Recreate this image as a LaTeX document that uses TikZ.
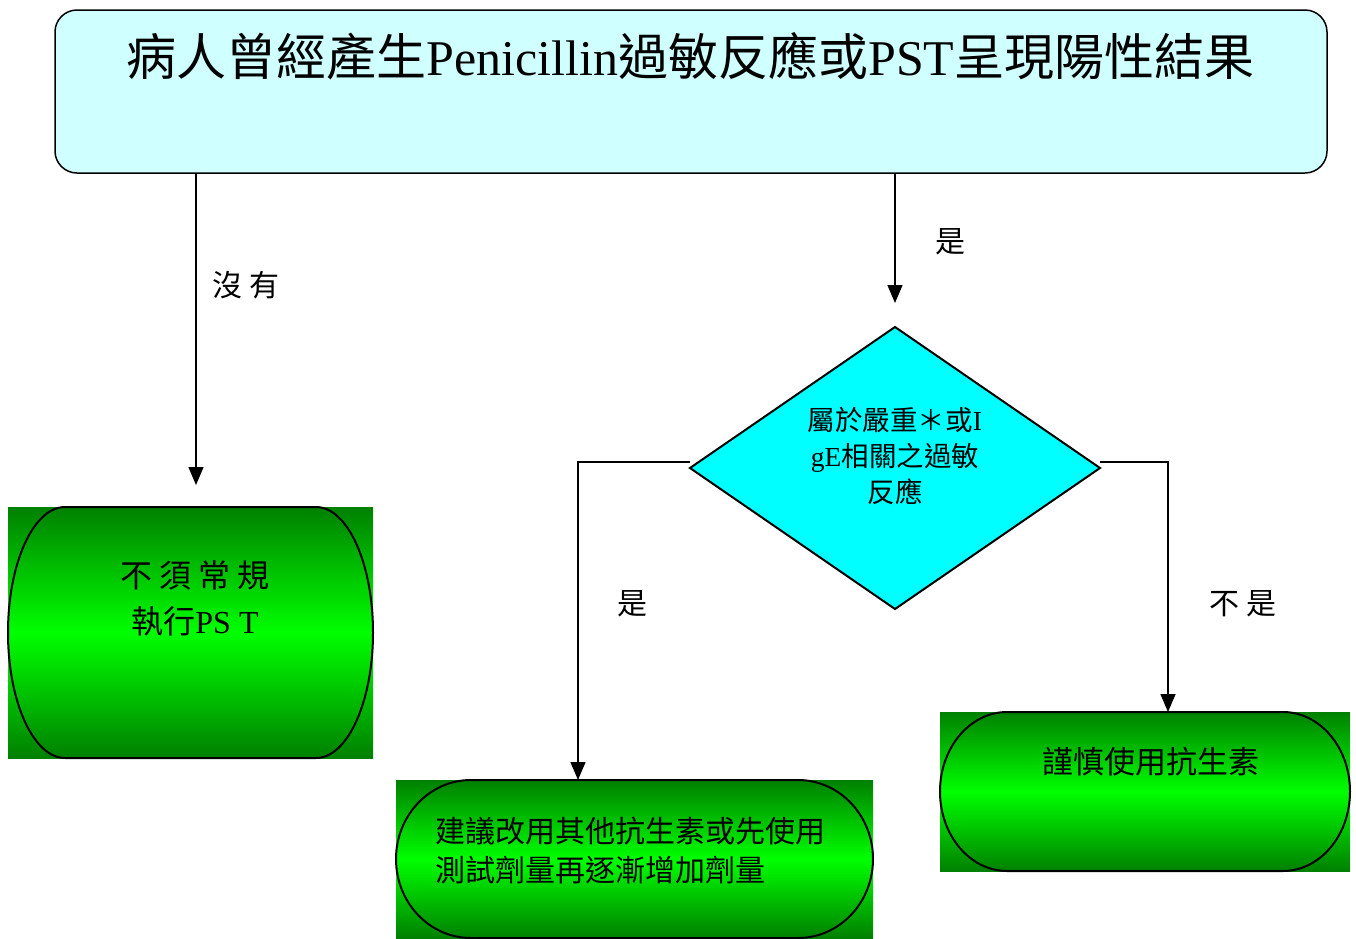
\documentclass[tikz,border=0pt]{standalone}
\usepackage{fontspec}
\setmainfont{Liberation Serif}
\newfontfamily\cjk{Noto Sans CJK TC}
\usetikzlibrary{shapes.geometric,arrows.meta}
\definecolor{boxcyan}{RGB}{208,255,255}
\definecolor{dcyan}{RGB}{0,255,255}
\definecolor{gdark}{RGB}{0,128,0}
\definecolor{glight}{RGB}{0,255,0}
\tikzset{
  conn/.style={line width=0.75pt, black},
  arr/.style={conn, -{Triangle[length=9pt,width=7.5pt]}},
  termbg/.style={rectangle, inner sep=0pt, outer sep=0pt, top color=gdark, bottom color=gdark, middle color=glight},
  termline/.style={line width=1pt, black},
  lbl/.style={inner sep=0pt, font=\fontsize{15pt}{18pt}\selectfont\cjk},
}
\newcommand{\stadiumoutline}[3]{%
  \draw[termline] ([xshift=#2]#1.north west) -- ([xshift=-#2]#1.north east)
    arc[start angle=90,end angle=-90,x radius=#2,y radius=#3]
    -- ([xshift=#2]#1.south west)
    arc[start angle=270,end angle=90,x radius=#2,y radius=#3] -- cycle;}
\begin{document}
\begin{tikzpicture}[x=0.5pt,y=-0.5pt]
\useasboundingbox[fill=white] (0,0) rectangle (1356,938);

% top box
\node[draw, line width=0.75pt, rounded corners=11pt, fill=boxcyan, inner sep=0pt,
      minimum width=636pt, minimum height=81.5pt] (top) at (691,91.5) {};
\node[inner sep=0pt, font=\fontsize{25pt}{30pt}\selectfont] (title) at (690.5,56)
  {{\cjk 病人曾經產生}Penicillin{\cjk 過敏反應或}PST{\cjk 呈現陽性結果}};

% diamond
\node[diamond, draw, line width=1pt, fill=dcyan, inner sep=0pt, outer sep=0pt,
      minimum width=205pt, minimum height=141pt] (d) at (895,468) {};
\node[inner sep=0pt, align=center, font=\fontsize{13.75pt}{18pt}\selectfont] (dtext) at (895,456)
  {{\cjk 屬於嚴重＊或}I\\gE{\cjk 相關之過敏}\\{\cjk 反應}};

% terminators
\node[termbg, minimum width=182.5pt, minimum height=125.5pt] (t1) at (190.5,632.5) {};
\stadiumoutline{t1}{28.5pt}{62.75pt}
\node[inner sep=0pt, align=center, font=\fontsize{16pt}{23pt}\selectfont] (t1text) at (195,598)
  {{\cjk 不 須 常 規}\\{\cjk 執行}PS T};

\node[termbg, minimum width=238.5pt, minimum height=79pt] (t2) at (634.5,859) {};
\stadiumoutline{t2}{37.5pt}{39.5pt}
\node[inner sep=0pt, align=left, anchor=west, font=\fontsize{15pt}{19.5pt}\selectfont\cjk] (t2text) at (435,850)
  {建議改用其他抗生素或先使用\\測試劑量再逐漸增加劑量};

\node[termbg, minimum width=205pt, minimum height=79.5pt] (t3) at (1145,791.5) {};
\stadiumoutline{t3}{33.5pt}{39.75pt}
\node[inner sep=0pt, font=\fontsize{15.5pt}{19pt}\selectfont\cjk] (t3text) at (1151,762)
  {謹慎使用抗生素};

% connectors
\coordinate (t1in) at ([xshift=2.75pt]t1.north);
\draw[arr, shorten >=11pt] (top.south -| t1in) -- (t1in);
\draw[arr, shorten >=12pt] (top.south -| d.north) -- (d.north);
\coordinate (t2in) at ([xshift=-28.25pt]t2.north);
\coordinate (t3in) at ([xshift=11.5pt]t3.north);
\draw[arr] ([yshift=3pt]d.west) -| (t2in);
\draw[arr] ([yshift=3pt]d.east) -| (t3in);

% labels
\node[lbl] (l1) at (246,285) {沒 有};
\node[lbl] (l2) at (950,242) {是};
\node[lbl] (l3) at (632,604) {是};
\node[lbl] (l4) at (1243,604) {不 是};
\end{tikzpicture}
\end{document}
